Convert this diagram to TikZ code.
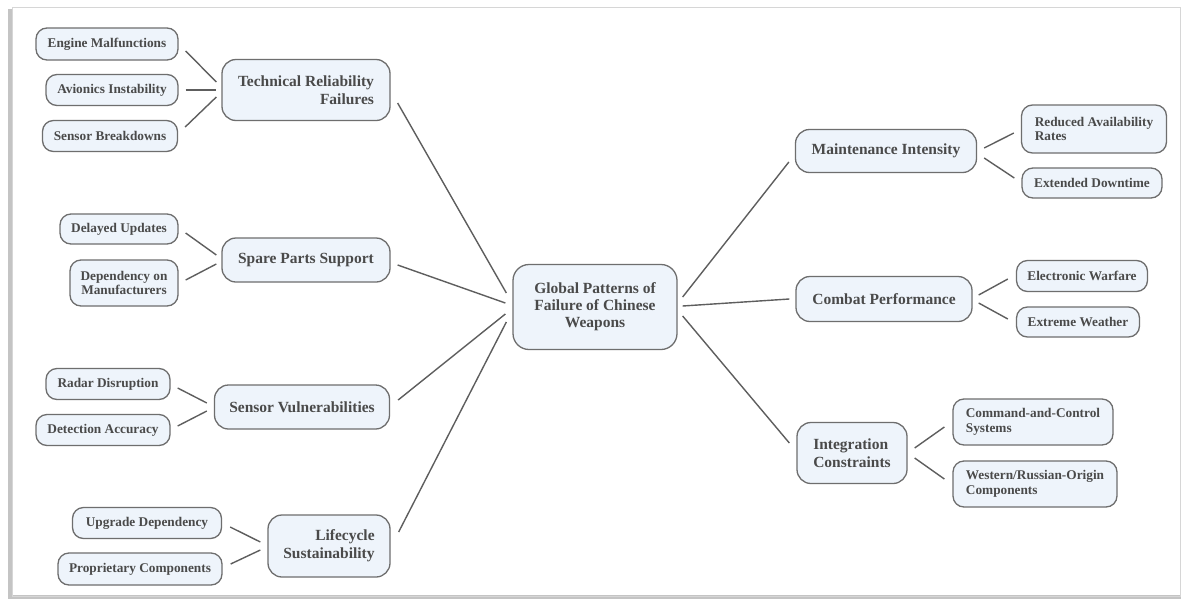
\documentclass[tikz,border=0pt]{standalone}
\usepackage{fontspec}
\setmainfont{Liberation Serif}[BoldFont={Liberation Serif Bold}]
\definecolor{fillcol}{HTML}{EEF4FB}
\definecolor{bordercol}{HTML}{6E6E6E}
\definecolor{txtcol}{HTML}{4A4A4A}
\definecolor{linecol}{HTML}{5E5E5E}
\definecolor{framecol}{HTML}{D6D6D6}
\definecolor{shadowcol}{HTML}{C4C4C4}
\tikzset{
  box/.style={draw=bordercol, fill=fillcol, line width=1.3pt, text=txtcol, inner sep=0pt, align=center},
  sz/.style 2 args={minimum width=#1pt, minimum height=#2pt},
  leaf/.style={box, rounded corners=11pt, font=\fontsize{13.3}{14.5}\selectfont\bfseries},
  branch/.style={box, rounded corners=14pt, font=\fontsize{15.5}{18}\selectfont\bfseries},
  hub/.style={box, rounded corners=16pt, font=\fontsize{15.5}{17}\selectfont\bfseries},
  link/.style={draw=linecol, line width=1.4pt}
}
\begin{document}
\begin{tikzpicture}[x=1pt,y=-1pt]
\useasboundingbox (0,0) rectangle (1184,603);
% frame
\fill[white] (0,0) rectangle (1184,603);
\fill[shadowcol] (8,9) rectangle (13,599);
\fill[shadowcol] (10,595) rectangle (1181,599);
\draw[framecol, line width=0.8pt] (12,7) rectangle (1180,596);

% hub
\node[hub, sz={164}{85}] (hub) at (595,307) {Global Patterns of\\Failure of Chinese\\Weapons};

% branches
\node[branch, sz={168}{61}, align=right] (tech) at (306,90) {Technical Reliability\\Failures};
\node[branch, sz={168}{44}] (spare) at (306,260) {Spare Parts Support};
\node[branch, sz={175}{44}] (sensv) at (302,407) {Sensor Vulnerabilities};
\node[branch, sz={122}{62}, align=right] (life) at (329,546) {Lifecycle\\Sustainability};
\node[branch, sz={181}{43}] (maint) at (886,151) {Maintenance Intensity};
\node[branch, sz={176}{45}] (combat) at (884,299) {Combat Performance};
\node[branch, sz={110}{61}, align=left] (integ) at (852,453) {Integration\\Constraints};

% leaves
\node[leaf, sz={142}{32}] (engine) at (107,44) {Engine Malfunctions};
\node[leaf, sz={132}{31}] (avion) at (112,90) {Avionics Instability};
\node[leaf, sz={135}{31}] (sensb) at (110,136) {Sensor Breakdowns};
\node[leaf, sz={118}{30}] (delayed) at (119,229) {Delayed Updates};
\node[leaf, sz={108}{46}] (depend) at (124,283) {Dependency on\\Manufacturers};
\node[leaf, sz={124}{31}] (radar) at (108,384) {Radar Disruption};
\node[leaf, sz={134}{31}] (detect) at (103,430) {Detection Accuracy};
\node[leaf, sz={149}{31}] (upgrade) at (147,523) {Upgrade Dependency};
\node[leaf, sz={164}{32}] (propr) at (140,569) {Proprietary Components};
\node[leaf, sz={145}{48}, align=left] (reduced) at (1094,129) {Reduced Availability\\Rates};
\node[leaf, sz={140}{30}] (extended) at (1092,183) {Extended Downtime};
\node[leaf, sz={131}{31}] (elec) at (1082,276) {Electronic Warfare};
\node[leaf, sz={123}{30}] (extreme) at (1078,322) {Extreme Weather};
\node[leaf, sz={160}{46}, align=left] (cmd) at (1033,422) {Command-and-Control\\Systems};
\node[leaf, sz={164}{46}, align=left] (western) at (1035,484) {Western/Russian-Origin\\Components};

% leaf links
\draw[link] ([xshift=7pt,yshift=-7pt]engine.east) -- ([xshift=-5pt,yshift=8pt]tech.west);
\draw[link] ([xshift=7pt]avion.east) -- ([xshift=-5pt]tech.west);
\draw[link] ([xshift=7pt,yshift=9pt]sensb.east) -- ([xshift=-5pt,yshift=-7pt]tech.west);
\draw[link] ([xshift=7pt,yshift=-4pt]delayed.east) -- ([xshift=-5pt,yshift=5pt]spare.west);
\draw[link] ([xshift=7pt,yshift=3pt]depend.east) -- ([xshift=-5pt,yshift=-4pt]spare.west);
\draw[link] ([xshift=7pt,yshift=-4pt]radar.east) -- ([xshift=-7pt,yshift=4pt]sensv.west);
\draw[link] ([xshift=7pt,yshift=4pt]detect.east) -- ([xshift=-7pt,yshift=-4pt]sensv.west);
\draw[link] ([xshift=8pt,yshift=-4pt]upgrade.east) -- ([xshift=-7pt,yshift=4pt]life.west);
\draw[link] ([xshift=8pt,yshift=5pt]propr.east) -- ([xshift=-7pt,yshift=-4pt]life.west);
\draw[link] ([xshift=7pt,yshift=3pt]maint.east) -- ([xshift=-7pt,yshift=-4pt]reduced.west);
\draw[link] ([xshift=7pt,yshift=-7pt]maint.east) -- ([xshift=-7pt,yshift=5pt]extended.west);
\draw[link] ([xshift=6pt,yshift=4pt]combat.east) -- ([xshift=-8pt,yshift=-3pt]elec.west);
\draw[link] ([xshift=6pt,yshift=-4pt]combat.east) -- ([xshift=-8pt,yshift=3pt]extreme.west);
\draw[link] ([xshift=7pt,yshift=5pt]integ.east) -- ([xshift=-8pt,yshift=-5pt]cmd.west);
\draw[link] ([xshift=7pt,yshift=-5pt]integ.east) -- ([xshift=-8pt,yshift=5pt]western.west);

% hub links
\draw[link] ([xshift=7pt,yshift=-13pt]tech.east) -- ([xshift=-6pt,yshift=14pt]hub.west);
\draw[link] ([xshift=7pt,yshift=-5pt]spare.east) -- ([xshift=-7pt,yshift=4pt]hub.west);
\draw[link] ([xshift=8pt,yshift=7pt]sensv.east) -- ([xshift=-7pt,yshift=-7pt]hub.west);
\draw[link] ([xshift=8pt,yshift=14pt]life.east) -- ([xshift=-6pt,yshift=-15pt]hub.west);
\draw[link] ([xshift=5pt,yshift=10pt]hub.east) -- ([xshift=-6pt,yshift=-11pt]maint.west);
\draw[link] ([xshift=5pt,yshift=1pt]hub.east) -- ([xshift=-6pt]combat.west);
\draw[link] ([xshift=5pt,yshift=-9pt]hub.east) -- ([xshift=-7pt,yshift=10pt]integ.west);
\end{tikzpicture}
\end{document}
